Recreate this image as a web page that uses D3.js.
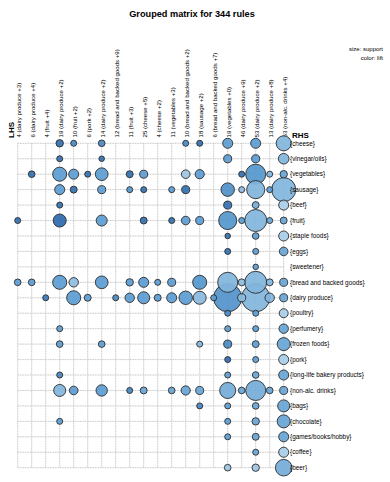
<!DOCTYPE html>
<html>
<head>
<meta charset="utf-8">
<script src="https://cdn.jsdelivr.net/npm/d3@7"></script>
<style>
  html, body { margin: 0; padding: 0; background: #fff; }
  svg { display: block; font-family: "Liberation Sans", Arial, Helvetica, sans-serif; }
</style>
</head>
<body>
<svg id="chart" width="390" height="482"></svg>
<script>
const title = "Grouped matrix for 344 rules";

const lhsLabels = [
  "4 (dairy produce +3)", "6 (dairy produce +4)", "4 (fruit +4)", "19 (dairy produce +2)",
  "10 (fruit +2)", "6 (pork +2)", "14 (dairy produce +2)", "12 (bread and backed goods +9)",
  "11 (fruit +3)", "25 (cheese +5)", "4 (cheese +2)", "11 (vegetables +3)",
  "10 (bread and backed goods +2)", "18 (sausage +2)", "6 (bread and backed goods +7)",
  "19 (vegetables +0)", "46 (dairy produce +9)", "53 (dairy produce +2)",
  "13 (dairy produce +8)", "53 (non-alc. drinks +4)"
];

const rhsLabels = [
  "{cheese}", "{vinegar/oils}", "{vegetables}", "{sausage}", "{beef}", "{fruit}",
  "{staple foods}", "{eggs}", "{sweetener}", "{bread and backed goods}", "{dairy produce}",
  "{poultry}", "{perfumery}", "{frozen foods}", "{pork}", "{long-life bakery products}",
  "{non-alc. drinks}", "{bags}", "{chocolate}", "{games/books/hobby}", "{coffee}", "{beer}"
];

// [rhs row, lhs column, support, lift]
const cells = [
  [0, 3, 0.0068, 2.6], [0, 4, 0.0045, 2.2], [0, 6, 0.0055, 2.2], [0, 12, 0.0045, 2.2],
  [0, 13, 0.0045, 2.6], [0, 15, 0.0125, 1.9], [0, 17, 0.0125, 1.9], [0, 19, 0.028, 1.6],
  [1, 3, 0.0045, 2.6], [1, 6, 0.0038, 2.6], [1, 15, 0.008, 1.9], [1, 17, 0.008, 1.9], [1, 19, 0.014, 1.6],
  [2, 1, 0.0055, 2.6], [2, 3, 0.0245, 1.9], [2, 4, 0.0125, 1.9], [2, 5, 0.0045, 2.6],
  [2, 6, 0.02, 1.9], [2, 8, 0.006, 2.6], [2, 9, 0.008, 1.9], [2, 12, 0.0092, 1.4],
  [2, 13, 0.0105, 1.9], [2, 16, 0.0045, 2.6], [2, 17, 0.05, 2.0], [2, 18, 0.0045, 1.6], [2, 19, 0.0068, 1.8],
  [3, 3, 0.0125, 1.9], [3, 4, 0.006, 2.6], [3, 6, 0.008, 1.9], [3, 8, 0.0045, 2.0],
  [3, 9, 0.0045, 2.6], [3, 11, 0.0045, 1.9], [3, 12, 0.008, 2.6], [3, 15, 0.0225, 2.1],
  [3, 16, 0.0045, 1.5], [3, 17, 0.0405, 1.6], [3, 18, 0.0045, 1.9], [3, 19, 0.072, 1.6],
  [4, 3, 0.0045, 2.6], [4, 15, 0.008, 2.6], [4, 17, 0.006, 1.7], [4, 19, 0.0125, 1.3],
  [5, 0, 0.0045, 2.6], [5, 3, 0.021, 2.7], [5, 6, 0.015, 1.9], [5, 9, 0.006, 2.6],
  [5, 11, 0.0045, 2.6], [5, 12, 0.0092, 1.9], [5, 13, 0.008, 1.9], [5, 15, 0.0405, 2.0],
  [5, 16, 0.0045, 1.9], [5, 17, 0.06, 1.6], [5, 18, 0.0045, 1.8], [5, 19, 0.006, 1.8],
  [6, 15, 0.0038, 2.6], [6, 17, 0.0055, 1.9], [6, 19, 0.0125, 1.3],
  [7, 15, 0.0045, 2.6], [7, 17, 0.0045, 1.9], [7, 19, 0.0092, 1.8],
  [8, 17, 0.0038, 1.9],
  [9, 0, 0.0055, 1.9], [9, 1, 0.0055, 1.9], [9, 3, 0.0245, 1.9], [9, 4, 0.011, 1.5],
  [9, 6, 0.02, 1.9], [9, 8, 0.0068, 1.9], [9, 9, 0.0125, 1.9], [9, 10, 0.0045, 1.9],
  [9, 11, 0.008, 1.9], [9, 13, 0.0245, 2.0], [9, 15, 0.05, 1.6], [9, 16, 0.006, 1.5],
  [9, 17, 0.06, 1.6], [9, 18, 0.006, 1.6], [9, 19, 0.008, 1.8],
  [10, 2, 0.0045, 2.5], [10, 4, 0.0245, 1.9], [10, 5, 0.006, 1.9], [10, 7, 0.0045, 2.2],
  [10, 8, 0.011, 1.9], [10, 9, 0.018, 1.9], [10, 10, 0.006, 1.9], [10, 11, 0.0125, 1.9],
  [10, 12, 0.0225, 1.9], [10, 13, 0.021, 1.55], [10, 14, 0.0045, 1.9], [10, 15, 0.098, 2.05],
  [10, 16, 0.008, 1.5], [10, 17, 0.098, 1.6], [10, 18, 0.011, 1.6], [10, 19, 0.008, 1.8],
  [11, 15, 0.0045, 2.2], [11, 17, 0.0045, 1.9], [11, 19, 0.01, 1.3],
  [12, 3, 0.0045, 1.9], [12, 15, 0.0045, 1.9], [12, 17, 0.0045, 1.9], [12, 19, 0.011, 1.8],
  [13, 3, 0.0055, 1.9], [13, 6, 0.0055, 1.9], [13, 13, 0.0045, 1.6], [13, 15, 0.008, 2.2],
  [13, 17, 0.006, 1.9], [13, 19, 0.021, 1.8],
  [14, 15, 0.0045, 2.7], [14, 17, 0.0045, 1.9], [14, 19, 0.0125, 1.3],
  [15, 3, 0.0045, 2.3], [15, 15, 0.0045, 1.9], [15, 17, 0.0055, 1.8], [15, 19, 0.0125, 1.8],
  [16, 3, 0.018, 1.6], [16, 4, 0.0092, 1.9], [16, 6, 0.016, 1.9], [16, 8, 0.0045, 2.3],
  [16, 9, 0.006, 1.8], [16, 11, 0.0055, 1.8], [16, 12, 0.0105, 1.8], [16, 13, 0.008, 1.8],
  [16, 15, 0.032, 1.7], [16, 16, 0.0055, 1.8], [16, 17, 0.05, 1.7], [16, 18, 0.0055, 1.8], [16, 19, 0.008, 1.8],
  [17, 13, 0.0045, 2.3], [17, 15, 0.0045, 1.9], [17, 17, 0.0055, 1.8], [17, 19, 0.018, 1.8],
  [18, 3, 0.0045, 1.9], [18, 15, 0.0045, 1.9], [18, 17, 0.0068, 1.8], [18, 19, 0.021, 1.8],
  [19, 15, 0.0045, 1.9], [19, 17, 0.006, 1.8], [19, 19, 0.0125, 1.8],
  [20, 17, 0.0045, 1.8], [20, 19, 0.0125, 1.3],
  [21, 15, 0.0055, 1.4], [21, 17, 0.0068, 1.4], [21, 19, 0.034, 1.7]
];

const svg = d3.select("#chart");

const x = d3.scalePoint().domain(d3.range(lhsLabels.length)).range([17.7, 283.7]);
const y = d3.scalePoint().domain(d3.range(rhsLabels.length)).range([143.3, 467.7]);
const r = d3.scaleSqrt().domain([0, 0.1]).range([0, 14.2]);
const color = d3.scaleLinear().domain([1.3, 1.9, 2.7])
  .range(["#a9cde8", "#5b9dd2", "#2c6aab"]).clamp(true);

// title
svg.append("text").attr("x", 192).attr("y", 16.5).attr("text-anchor", "middle")
  .attr("font-size", 9.2).attr("font-weight", "bold").attr("fill", "#000").text(title);

svg.append("text").attr("x", 383).attr("y", 51).attr("text-anchor", "end")
  .attr("font-size", 6).attr("fill", "#000").text("size: support");
svg.append("text").attr("x", 383).attr("y", 59.5).attr("text-anchor", "end")
  .attr("font-size", 6).attr("fill", "#000").text("color: lift");

// grid
const grid = svg.append("g");
const [x0, x1] = x.range();
const [y0, y1] = y.range();
grid.selectAll("line.v").data(x.domain()).join("line")
  .attr("x1", d => x(d)).attr("x2", d => x(d)).attr("y1", y0).attr("y2", y1)
  .attr("stroke", "#ececec").attr("stroke-width", 1);
grid.selectAll("line.h").data(y.domain()).join("line")
  .attr("x1", x0).attr("x2", x1).attr("y1", d => y(d)).attr("y2", d => y(d))
  .attr("stroke", "#ececec").attr("stroke-width", 1);
grid.selectAll("line.vd").data(x.domain()).join("line")
  .attr("x1", d => x(d)).attr("x2", d => x(d)).attr("y1", y0).attr("y2", y1)
  .attr("stroke", "#bdbdbd").attr("stroke-width", 0.8).attr("stroke-dasharray", "1,1.5");
grid.selectAll("line.hd").data(y.domain()).join("line")
  .attr("x1", x0).attr("x2", x1).attr("y1", d => y(d)).attr("y2", d => y(d))
  .attr("stroke", "#bdbdbd").attr("stroke-width", 0.8).attr("stroke-dasharray", "1,1.5");

// LHS labels
svg.append("g").selectAll("text").data(lhsLabels).join("text")
  .attr("transform", (d, i) => `translate(${x(i) + 3.6},137.5) rotate(-90)`)
  .attr("font-size", 6.1).attr("fill", "#000").text(d => d);

svg.append("text").attr("transform", "translate(13.5,138) rotate(-90)")
  .attr("font-size", 8).attr("font-weight", "bold").text("LHS");

// circles (sorted so big ones drawn first)
const sorted = cells.slice().sort((a, b) => b[2] - a[2]);
svg.append("g").selectAll("circle").data(sorted).join("circle")
  .attr("cx", d => x(d[1])).attr("cy", d => y(d[0])).attr("r", d => r(d[2]))
  .attr("fill", d => color(d[3])).attr("fill-opacity", 0.92)
  .attr("stroke", "#2b2b2b").attr("stroke-width", 0.9);

// RHS labels
svg.append("text").attr("x", 292).attr("y", 137.5)
  .attr("font-size", 8).attr("font-weight", "bold").text("RHS");
svg.append("g").selectAll("text").data(rhsLabels).join("text")
  .attr("x", 290).attr("y", (d, i) => y(i)).attr("dy", "0.35em")
  .attr("font-size", 6.4).attr("fill", "#000").text(d => d);
</script>
</body>
</html>
